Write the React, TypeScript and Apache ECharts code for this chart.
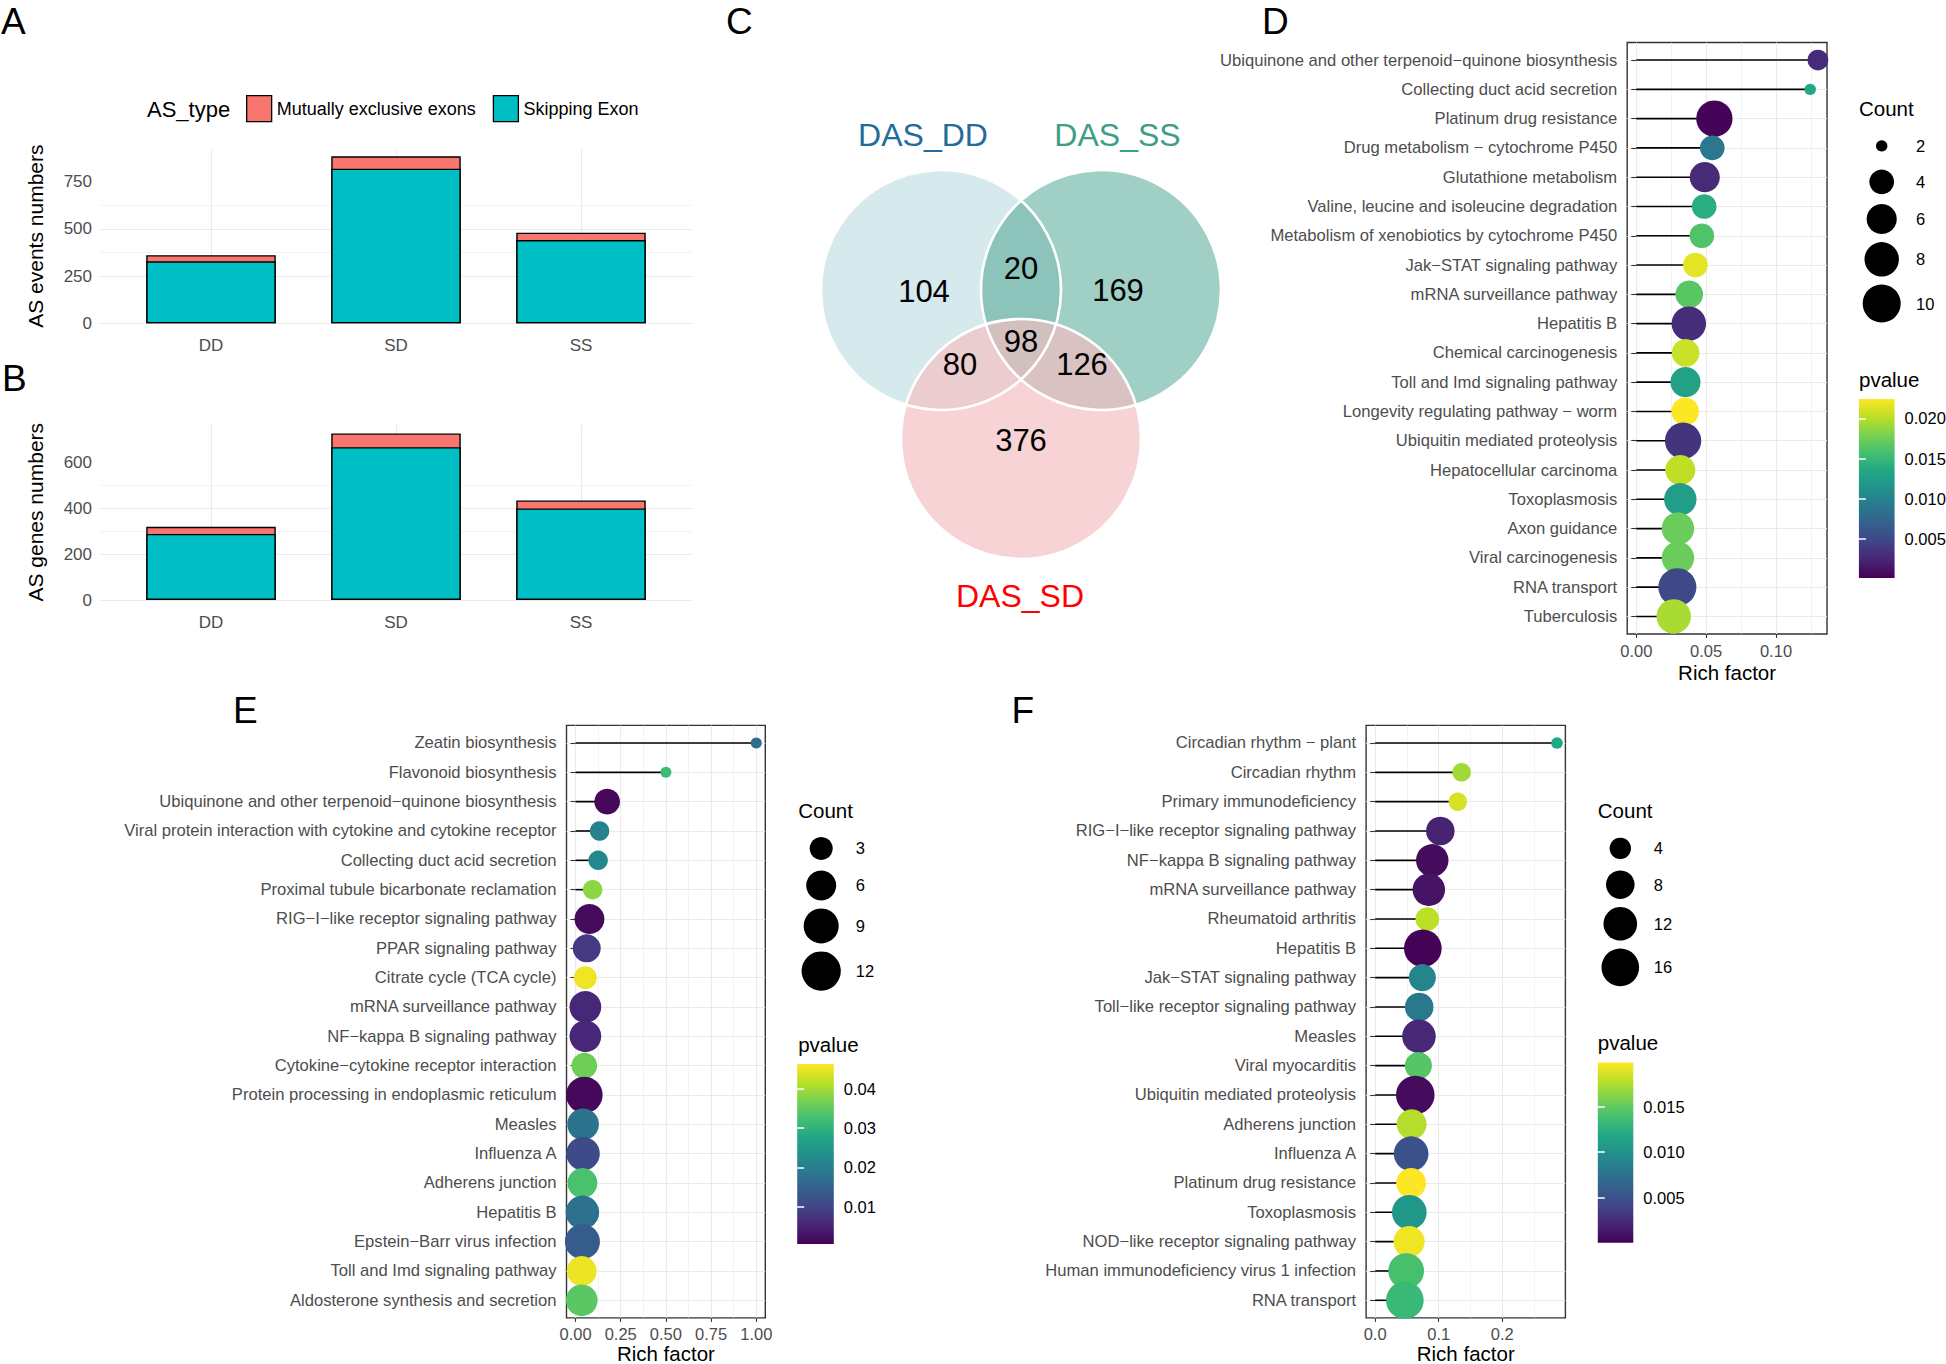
import React, { useEffect, useRef } from 'react';
import * as echarts from 'echarts';

const FONT = '"Liberation Sans", Arial, Helvetica, sans-serif';
const AXIS_GREY = '#4D4D4D';
const GRID_GREY = '#EBEBEB';
const VIRIDIS = ['#440154', '#482475', '#414487', '#355F8D', '#2A788E', '#21918C', '#22A884', '#44BF70', '#7AD151', '#BDDF26', '#FDE725'];

// ---------- Panels A & B ----------
const asCategories = ['DD', 'SD', 'SS'];
const asTypes = ['Mutually exclusive exons', 'Skipping Exon'];
const asTypeColors = ['#F8766D', '#00BFC4'];
const eventsSkipping = [328, 819, 441];
const eventsMutual = [33, 65, 39];
const genesSkipping = [288, 666, 399];
const genesMutual = [31, 60, 35];
const eventsTicks = [0, 250, 500, 750];
const eventsMinorTicks = [125, 375, 625, 875];
const genesTicks = [0, 200, 400, 600];
const genesMinorTicks = [100, 300, 500, 700];

// ---------- Panel C ----------
const vennSetNames = ['DAS_DD', 'DAS_SS', 'DAS_SD'];
const vennSetColors = ['#236B99', '#3D9E86', '#FF0000'];
const vennRegions = ['DD', 'DD&SS', 'SS', 'DD&SD', 'DD&SS&SD', 'SS&SD', 'SD'];
const vennCounts = [104, 20, 169, 80, 98, 126, 376];

// ---------- Panel D ----------
const dPathways = [
  'Ubiquinone and other terpenoid\u2212quinone biosynthesis',
  'Collecting duct acid secretion',
  'Platinum drug resistance',
  'Drug metabolism \u2212 cytochrome P450',
  'Glutathione metabolism',
  'Valine, leucine and isoleucine degradation',
  'Metabolism of xenobiotics by cytochrome P450',
  'Jak\u2212STAT signaling pathway',
  'mRNA surveillance pathway',
  'Hepatitis B',
  'Chemical carcinogenesis',
  'Toll and Imd signaling pathway',
  'Longevity regulating pathway \u2212 worm',
  'Ubiquitin mediated proteolysis',
  'Hepatocellular carcinoma',
  'Toxoplasmosis',
  'Axon guidance',
  'Viral carcinogenesis',
  'RNA transport',
  'Tuberculosis',
];
const dRichFactor = [0.130, 0.1245, 0.0559, 0.0544, 0.049, 0.0486, 0.0469, 0.0423, 0.0379, 0.0376, 0.0353, 0.0352, 0.035, 0.0335, 0.0315, 0.0315, 0.0298, 0.0298, 0.0294, 0.0268];
const dCount = [3, 2, 9, 4, 6, 4, 4, 4, 5, 8, 5, 6, 5, 9, 6, 7, 7, 7, 10, 8];
const dPvalue = [0.0028, 0.0135, 0.0004, 0.009, 0.0028, 0.014, 0.0162, 0.0215, 0.0166, 0.003, 0.0206, 0.0128, 0.0224, 0.0035, 0.0202, 0.0124, 0.0173, 0.0173, 0.005, 0.0195];
const dRichTicks = [0, 0.05, 0.1];
const dRichMinor = [0.025, 0.075, 0.125];
const dCountBreaks = [2, 4, 6, 8, 10];
const dPvalueTicks = [0.005, 0.01, 0.015, 0.02];

// ---------- Panel E ----------
const ePathways = [
  'Zeatin biosynthesis',
  'Flavonoid biosynthesis',
  'Ubiquinone and other terpenoid\u2212quinone biosynthesis',
  'Viral protein interaction with cytokine and cytokine receptor',
  'Collecting duct acid secretion',
  'Proximal tubule bicarbonate reclamation',
  'RIG\u2212I\u2212like receptor signaling pathway',
  'PPAR signaling pathway',
  'Citrate cycle (TCA cycle)',
  'mRNA surveillance pathway',
  'NF\u2212kappa B signaling pathway',
  'Cytokine\u2212cytokine receptor interaction',
  'Protein processing in endoplasmic reticulum',
  'Measles',
  'Influenza A',
  'Adherens junction',
  'Hepatitis B',
  'Epstein\u2212Barr virus infection',
  'Toll and Imd signaling pathway',
  'Aldosterone synthesis and secretion',
];
const eRichFactor = [1.0, 0.5, 0.175, 0.133, 0.125, 0.0946, 0.077, 0.062, 0.0544, 0.0544, 0.0544, 0.0487, 0.0487, 0.0415, 0.0415, 0.038, 0.038, 0.038, 0.0344, 0.0344];
const eCount = [1, 1, 4, 2, 2, 2, 6, 5, 3, 7, 7, 4, 10, 7, 8, 6, 8, 9, 6, 7];
const ePvalue = [0.017, 0.0316, 0.0014, 0.0202, 0.022, 0.0385, 0.0019, 0.0083, 0.0454, 0.0055, 0.0055, 0.0362, 0.0014, 0.018, 0.0106, 0.033, 0.0175, 0.0138, 0.045, 0.0344];
const eRichTicks = [0, 0.25, 0.5, 0.75, 1.0];
const eRichMinor = [0.125, 0.375, 0.625, 0.875];
const eCountBreaks = [3, 6, 9, 12];
const ePvalueTicks = [0.01, 0.02, 0.03, 0.04];

// ---------- Panel F ----------
const fPathways = [
  'Circadian rhythm \u2212 plant',
  'Circadian rhythm',
  'Primary immunodeficiency',
  'RIG\u2212I\u2212like receptor signaling pathway',
  'NF\u2212kappa B signaling pathway',
  'mRNA surveillance pathway',
  'Rheumatoid arthritis',
  'Hepatitis B',
  'Jak\u2212STAT signaling pathway',
  'Toll\u2212like receptor signaling pathway',
  'Measles',
  'Viral myocarditis',
  'Ubiquitin mediated proteolysis',
  'Adherens junction',
  'Influenza A',
  'Platinum drug resistance',
  'Toxoplasmosis',
  'NOD\u2212like receptor signaling pathway',
  'Human immunodeficiency virus 1 infection',
  'RNA transport',
];
const fRichFactor = [0.286, 0.136, 0.130, 0.1025, 0.0898, 0.0844, 0.082, 0.075, 0.0742, 0.0693, 0.0689, 0.068, 0.0631, 0.0574, 0.0566, 0.0566, 0.0537, 0.0533, 0.0488, 0.0467];
const fCount = [2, 3, 3, 8, 11, 11, 5, 16, 7, 8, 12, 7, 17, 9, 13, 9, 13, 10, 14, 16];
const fPvalue = [0.0119, 0.017, 0.0186, 0.002, 0.0007, 0.0011, 0.0178, 0.0002, 0.009, 0.008, 0.0023, 0.0145, 0.0007, 0.0176, 0.005, 0.0198, 0.0105, 0.0194, 0.014, 0.0133];
const fRichTicks = [0, 0.1, 0.2];
const fRichMinor = [0.05, 0.15, 0.25];
const fCountBreaks = [4, 8, 12, 16];
const fPvalueTicks = [0.005, 0.01, 0.015];

// ---------- Layout ----------
const LAYOUT = {
  A: { left: 100, top: 149, width: 592, height: 174.3, yMax: 923 },
  B: { left: 100, top: 424.5, width: 592, height: 175.5, yMax: 765 },
  D: {
    grid: { left: 1627.2, top: 42.5, width: 199.8, height: 591.5 },
    xRange: [-0.0065, 0.1365], pRange: [0.00015, 0.0224], nameGap: 27.5,
    cbar: { left: 1858.9, top: 399, width: 35.7, height: 179 },
    legendX: 1859, countTitleY: 108.4, pTitleY: 379.4, circleX: 1881.7, labelX: 1916,
    size: (c: number) => 11.4 + 9.4 * Math.sqrt(Math.max(c - 2, 0)), dec: 2, pDec: 3,
  },
  E: {
    grid: { left: 566.5, top: 725.4, width: 198.8, height: 592.5 },
    xRange: [-0.05, 1.05], pRange: [0.0005, 0.0463], nameGap: 25,
    cbar: { left: 797.2, top: 1064, width: 36.6, height: 180 },
    legendX: 798.2, countTitleY: 810.9, pTitleY: 1044.3, circleX: 821.2, labelX: 855.7,
    size: (c: number) => 11 + 8.5 * Math.sqrt(Math.max(c - 1, 0)), dec: 2, pDec: 2,
  },
  F: {
    grid: { left: 1366.1, top: 725.4, width: 199.3, height: 592.5 },
    xRange: [-0.01425, 0.29925], pRange: [0.0001, 0.0198], nameGap: 25,
    cbar: { left: 1597.8, top: 1062.6, width: 35.5, height: 180.2 },
    legendX: 1597.8, countTitleY: 810.9, pTitleY: 1042, circleX: 1620.3, labelX: 1653.8,
    size: (c: number) => 11.6 + 6.95 * Math.sqrt(Math.max(c - 2, 0)), dec: 1, pDec: 3,
  },
};

const VENN = {
  circles: [
    { cx: 941, cy: 290, r: 120, fill: '#D6E9EC' },
    { cx: 1101, cy: 290, r: 120, fill: 'rgba(65,159,139,0.5)' },
    { cx: 1021, cy: 439, r: 120, fill: 'rgba(245,190,192,0.67)' },
  ],
  setLabelPos: [[923, 135], [1117.5, 135], [1020, 596]],
  regionPos: [[924, 291], [1021, 268], [1118, 290], [960, 364], [1021, 341], [1082, 364], [1021, 440]],
};

function txt(text: string, x: number, y: number, size: number, opts: any = {}) {
  const align = opts.align || 'left';
  return {
    type: 'text', x, y, silent: true, z: 10,
    style: {
      text, fontSize: size, fontFamily: FONT, fill: opts.fill || '#000',
      align, verticalAlign: 'middle', textAlign: align, textVerticalAlign: 'middle',
    },
  };
}

function buildOption() {
  const grid: any[] = [];
  const xAxis: any[] = [];
  const yAxis: any[] = [];
  const series: any[] = [];
  const visualMap: any[] = [];
  const graphic: any[] = [];

  const barPanel = (box: any, skipping: number[], mutual: number[], ticks: number[], minor: number[], yName: string) => {
    const gi = grid.length;
    grid.push({ left: box.left, top: box.top, width: box.width, height: box.height, outerBoundsMode: 'none' });
    const xi = xAxis.length;
    const catPos = asCategories.map((_, i) => i);
    xAxis.push({
      gridIndex: gi, type: 'value', min: -0.6, max: asCategories.length - 1 + 0.6,
      axisLine: { show: false },
      axisTick: { show: false, customValues: catPos },
      axisLabel: { customValues: catPos, formatter: (v: number) => asCategories[Math.round(v)], fontSize: 17, color: AXIS_GREY, fontFamily: FONT, margin: 14 },
      splitLine: { show: true, lineStyle: { color: GRID_GREY, width: 1.1 } },
    });
    const yi = yAxis.length;
    yAxis.push({
      gridIndex: gi, type: 'value', min: 0, max: box.yMax,
      name: yName, nameLocation: 'middle', nameGap: 54, nameRotate: 90, nameMoveOverlap: false,
      nameTextStyle: { fontSize: 21, color: '#000', fontFamily: FONT },
      axisLine: { show: false },
      axisTick: { show: false, customValues: ticks },
      axisLabel: { customValues: ticks, fontSize: 17, color: AXIS_GREY, fontFamily: FONT, margin: 8 },
      splitLine: { show: true, showMaxLine: false, lineStyle: { color: GRID_GREY, width: 1.1 } },
    });
    yAxis.push({
      gridIndex: gi, type: 'value', min: 0, max: box.yMax,
      axisLine: { show: false },
      axisTick: { show: false, customValues: minor },
      axisLabel: { show: false },
      splitLine: { show: true, showMaxLine: false, showMinLine: false, lineStyle: { color: GRID_GREY, width: 0.6 } },
    });
    // stacked bar: the upper (MXE) segment is drawn as the full column, the SE segment over it
    const totals = skipping.map((v, i) => v + mutual[i]);
    series.push({
      type: 'bar', name: asTypes[0], xAxisIndex: xi, yAxisIndex: yi, barWidth: 129.5, barGap: '-100%',
      data: totals.map((v, i) => [i, v]),
      itemStyle: { color: asTypeColors[0], borderColor: '#000', borderWidth: 1.4 },
    });
    series.push({
      type: 'bar', name: asTypes[1], xAxisIndex: xi, yAxisIndex: yi, barWidth: 129.5, barGap: '-100%',
      data: skipping.map((v, i) => [i, v]),
      itemStyle: { color: asTypeColors[1], borderColor: '#000', borderWidth: 1.4 },
    });
  };

  const enrichPanel = (L: any, pathways: string[], rf: number[], count: number[], pval: number[],
    richTicks: number[], richMinor: number[], countBreaks: number[], pTicks: number[]) => {
    const gi = grid.length;
    grid.push({ ...L.grid, show: true, borderColor: '#333333', borderWidth: 1.4, backgroundColor: 'transparent', outerBoundsMode: 'none' });
    const xi = xAxis.length;
    xAxis.push({
      gridIndex: gi, type: 'value', min: L.xRange[0], max: L.xRange[1],
      name: 'Rich factor', nameLocation: 'middle', nameGap: L.nameGap, nameMoveOverlap: false,
      nameTextStyle: { fontSize: 20.5, color: '#000', fontFamily: FONT },
      axisLine: { show: false },
      axisTick: { show: true, customValues: richTicks, length: 4, lineStyle: { color: '#333333', width: 1.1 } },
      axisLabel: { customValues: richTicks, formatter: (v: number) => v.toFixed(L.dec), fontSize: 16.5, color: AXIS_GREY, fontFamily: FONT, margin: 8 },
      splitLine: { show: true, lineStyle: { color: GRID_GREY, width: 1.1 } },
    });
    xAxis.push({
      gridIndex: gi, type: 'value', min: L.xRange[0], max: L.xRange[1],
      axisLine: { show: false },
      axisTick: { show: false, customValues: richMinor },
      axisLabel: { show: false },
      splitLine: { show: true, lineStyle: { color: GRID_GREY, width: 0.6 } },
    });
    const yi = yAxis.length;
    const pos = pathways.map((_, i) => i + 1);
    yAxis.push({
      gridIndex: gi, type: 'value', inverse: true, min: 0.4, max: pathways.length + 0.6,
      axisLine: { show: false },
      axisTick: { show: true, customValues: pos, length: 5, lineStyle: { color: '#333333', width: 1.1 } },
      axisLabel: { customValues: pos, formatter: (v: number) => pathways[Math.round(v) - 1], fontSize: 16.6, color: AXIS_GREY, fontFamily: FONT, margin: 10 },
      splitLine: { show: true, lineStyle: { color: GRID_GREY, width: 1.1 } },
    });
    series.push({
      type: 'custom', xAxisIndex: xi, yAxisIndex: yi, z: 3, silent: true,
      data: rf.map((r, i) => [r, i + 1]),
      renderItem: (params: any, api: any) => {
        const y = api.value(1);
        const a = api.coord([0, y]);
        const b = api.coord([api.value(0), y]);
        return { type: 'line', shape: { x1: a[0], y1: a[1], x2: b[0], y2: b[1] }, style: { stroke: '#000', lineWidth: 1.6 } };
      },
    });
    const si = series.length;
    series.push({
      type: 'scatter', xAxisIndex: xi, yAxisIndex: yi, z: 4, silent: true,
      data: rf.map((r, i) => [r, i + 1, count[i], pval[i]]),
      symbolSize: (v: number[]) => L.size(v[2]),
      itemStyle: { opacity: 1 },
    });
    visualMap.push({ type: 'continuous', show: false, seriesIndex: si, dimension: 3, min: L.pRange[0], max: L.pRange[1], inRange: { color: VIRIDIS } });

    // colour bar
    const ci = grid.length;
    grid.push({
      ...L.cbar, show: true, borderWidth: 0, outerBoundsMode: 'none',
      backgroundColor: new echarts.graphic.LinearGradient(0, 1, 0, 0, VIRIDIS.map((c, i) => ({ offset: i / (VIRIDIS.length - 1), color: c }))),
    });
    xAxis.push({ gridIndex: ci, type: 'value', show: false, min: 0, max: 1 });
    yAxis.push({
      gridIndex: ci, type: 'value', position: 'right', min: L.pRange[0], max: L.pRange[1],
      axisLine: { show: false },
      axisTick: { show: true, inside: true, customValues: pTicks, length: 7, lineStyle: { color: '#ffffff', width: 1.5 } },
      axisLabel: { customValues: pTicks, formatter: (v: number) => v.toFixed(L.pDec), fontSize: 16.5, color: '#000', fontFamily: FONT, margin: 10 },
      splitLine: { show: false },
    });
    yAxis.push({
      gridIndex: ci, type: 'value', position: 'left', min: L.pRange[0], max: L.pRange[1],
      axisLine: { show: false },
      axisTick: { show: true, inside: true, customValues: pTicks, length: 7, lineStyle: { color: '#ffffff', width: 1.5 } },
      axisLabel: { show: false },
      splitLine: { show: false },
    });

    // size legend
    graphic.push(txt('Count', L.legendX, L.countTitleY, 20.5));
    let y = L.countTitleY + 37.5;
    let prevH = 0;
    countBreaks.forEach((b, i) => {
      const d = L.size(b);
      const h = Math.max(36, d + 8);
      if (i > 0) y += (prevH + h) / 2;
      prevH = h;
      graphic.push({ type: 'circle', silent: true, z: 10, shape: { cx: L.circleX, cy: y, r: d / 2 }, style: { fill: '#000' } });
      graphic.push(txt(String(b), L.labelX, y, 16.5));
    });
    graphic.push(txt('pvalue', L.legendX, L.pTitleY, 20.5));
  };

  barPanel(LAYOUT.A, eventsSkipping, eventsMutual, eventsTicks, eventsMinorTicks, 'AS events numbers');
  barPanel(LAYOUT.B, genesSkipping, genesMutual, genesTicks, genesMinorTicks, 'AS genes numbers');
  enrichPanel(LAYOUT.D, dPathways, dRichFactor, dCount, dPvalue, dRichTicks, dRichMinor, dCountBreaks, dPvalueTicks);
  enrichPanel(LAYOUT.E, ePathways, eRichFactor, eCount, ePvalue, eRichTicks, eRichMinor, eCountBreaks, ePvalueTicks);
  enrichPanel(LAYOUT.F, fPathways, fRichFactor, fCount, fPvalue, fRichTicks, fRichMinor, fCountBreaks, fPvalueTicks);

  // legend title A
  graphic.push(txt('AS_type', 147, 109, 22));

  // Venn diagram
  VENN.circles.forEach((c) => {
    graphic.push({ type: 'circle', silent: true, z: 5, shape: { cx: c.cx, cy: c.cy, r: c.r }, style: { fill: c.fill } });
  });
  VENN.circles.forEach((c) => {
    graphic.push({ type: 'circle', silent: true, z: 6, shape: { cx: c.cx, cy: c.cy, r: c.r }, style: { fill: 'none', stroke: '#ffffff', lineWidth: 2.6 } });
  });
  vennCounts.forEach((n, i) => {
    const p = VENN.regionPos[i];
    graphic.push(txt(String(n), p[0], p[1], 31, { align: 'center' }));
  });
  vennSetNames.forEach((name, i) => {
    const p = VENN.setLabelPos[i];
    graphic.push(txt(name, p[0], p[1], 32, { align: 'center', fill: vennSetColors[i] }));
  });

  // panel letters
  const letters: [string, number, number][] = [['A', 1, 21], ['B', 2, 378], ['C', 726, 21], ['D', 1262, 21], ['E', 233, 710], ['F', 1011.5, 710]];
  letters.forEach(([l, x, y]) => graphic.push(txt(l, x, y, 37)));

  return {
    animation: false,
    backgroundColor: '#ffffff',
    textStyle: { fontFamily: FONT },
    legend: {
      data: asTypes, left: 246, top: 95, padding: 0, itemWidth: 25, itemHeight: 26, itemGap: 17, icon: 'rect',
      selectedMode: false,
      itemStyle: { borderColor: '#000', borderWidth: 1.3 },
      textStyle: { fontSize: 18, color: '#000', fontFamily: FONT },
    },
    grid, xAxis, yAxis, series, visualMap, graphic,
  };
}

export default function App() {
  const ref = useRef<HTMLDivElement>(null);
  useEffect(() => {
    if (!ref.current) return;
    const chart = echarts.init(ref.current, null, { renderer: 'svg' });
    chart.setOption(buildOption() as any);
    return () => chart.dispose();
  }, []);
  return <div ref={ref} style={{ position: 'absolute', left: 0, top: 0, width: 1946, height: 1364, background: '#fff' }} />;
}
